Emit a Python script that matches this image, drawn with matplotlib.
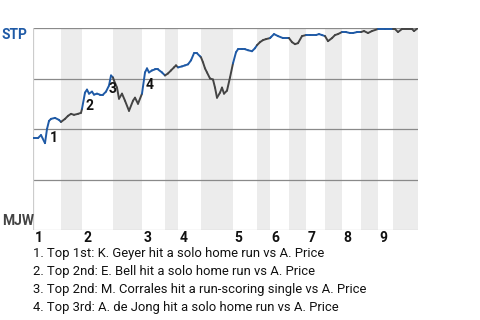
import matplotlib
matplotlib.use("Agg")
import matplotlib.pyplot as plt
from matplotlib.collections import LineCollection

# game progress (event units) and STP win probability (%)
prog = [0, 5, 8, 12, 14, 16, 18, 22, 26, 28,
        32, 35, 38, 41, 45, 48, 49,
        52, 54, 56, 59, 61, 64, 67, 70, 73, 76, 78, 80,
        81, 84, 86, 89, 92, 96, 100, 102, 105, 109,
        112, 114, 116, 119, 122, 125, 129, 132,
        135, 138, 141, 143, 145,
        149, 152, 155, 158, 161, 164, 167, 168,
        170, 172, 174, 177, 180, 182, 184, 187, 189, 191, 194, 197, 200,
        203, 205, 209, 212, 215, 219, 222, 224,
        227, 230, 233, 237,
        238, 241, 245, 250, 255, 256,
        259, 262, 265, 269, 273,
        277, 283, 286, 289, 292,
        295, 299, 302, 305, 309,
        313, 317, 320, 324, 328,
        331, 335, 339, 345,
        352, 360,
        362, 365, 369, 379, 381, 385]
wp = [45.5, 45.5, 47, 43, 50, 54, 55, 55.5, 54.5, 53.5,
      55, 56.5, 57.5, 57, 57.5, 58, 60,
      68, 69.5, 67.5, 68.5, 67, 67.5, 67, 67, 68.5, 71.5, 76.5, 75.5,
      74, 70.5, 65, 67.5, 64, 59, 64, 65.5, 62.5, 67.5,
      78, 80, 78, 79, 79.5, 79.5, 78, 76.5,
      77.5, 79, 80.5, 81.5, 80.5,
      81, 81.5, 82, 84, 87.5, 87.5, 86, 85.5,
      83, 80, 78, 75, 74.5, 70.5, 65.5, 68, 70.5, 67.5, 69, 75.5, 82.5,
      88, 89.5, 89.5, 89.5, 89, 88.5, 90, 91.5,
      93, 94, 94.5, 95,
      95.5, 97, 96, 95, 95, 95,
      93, 92, 92.5, 96, 96.5,
      96.5, 96.5, 97, 96.5, 96,
      93.5, 95, 96.5, 97, 98,
      98, 97.5, 97.5, 98, 98,
      98.5, 97.5, 98.5, 99.5,
      99.5, 99.5,
      99.5, 98, 99.5, 99.5, 98.5, 100]

# start of each half inning (top 1st, bot 1st, top 2nd, ...)
half_starts = [0, 28, 49, 80, 109, 132, 145, 168, 200, 224, 237, 256,
               273, 292, 309, 328, 345, 360]
game_end = 385
innings = ["1", "2", "3", "4", "5", "6", "7", "8", "9"]

# key plays: label, progress, win prob
play_labels = ["1", "2", "3", "4"]
play_x = [17, 53, 76, 113]
play_y = [45.5, 61.5, 70, 72]

notes = [
    "1. Top 1st: K. Geyer hit a solo home run vs A. Price",
    "2. Top 2nd: E. Bell hit a solo home run vs A. Price",
    "3. Top 2nd: M. Corrales hit a run-scoring single vs A. Price",
    "4. Top 3rd: A. de Jong hit a solo home run vs A. Price",
]

blue = "#1f5aa6"
dark = "#444444"
bold_font = ["Roboto", "DejaVu Sans"]

fig = plt.figure(figsize=(4.8, 3.2), dpi=100)
ax = fig.add_axes([33 / 480, 1 - 230 / 320, 385 / 480, 202 / 320])

# shaded bottom halves
for i in range(1, len(half_starts), 2):
    end = half_starts[i + 1] if i + 1 < len(half_starts) else game_end
    ax.axvspan(half_starts[i], end, color="#ececec", lw=0, zorder=0)

for y in [25, 50, 75, 100]:
    ax.axhline(y, color="#8a8a8a", lw=0.9, zorder=1)
ax.axhline(0, color="#cccccc", lw=0.9, zorder=1)
ax.axvline(0, color="#cccccc", lw=0.9, zorder=1)

# line coloured by which team is batting
segs, cols = [], []
for i in range(len(prog) - 1):
    mid = (prog[i] + prog[i + 1]) / 2
    half = sum(1 for s in half_starts if s <= mid) - 1
    segs.append([(prog[i], wp[i]), (prog[i + 1], wp[i + 1])])
    cols.append(blue if half % 2 == 0 else dark)
lc = LineCollection(segs, colors=cols, linewidths=1.4, capstyle="round",
                    joinstyle="round", zorder=3)
ax.add_collection(lc)

for lab, x, y in zip(play_labels, play_x, play_y):
    ax.text(x, y, lab, fontsize=10, fontweight="bold", family=bold_font,
            color="#111111", ha="left", va="center", zorder=4)

ax.set_xlim(0, game_end)
ax.set_ylim(0, 100)
ax.axis("off")

for k, lab in enumerate(innings):
    ax.text(half_starts[2 * k] + 1.5, -4, lab, fontsize=10, fontweight="bold",
            family=bold_font, color="#111111", ha="left", va="center",
            clip_on=False)

fig.text(2 / 480, 1 - 35 / 320, "STP", fontsize=10, fontweight="bold",
         family=bold_font, color=blue, ha="left", va="center")
fig.text(2 / 480, 1 - 221 / 320, "MJW", fontsize=10, fontweight="bold",
         family=bold_font, color=dark, ha="left", va="center")

for k, note in enumerate(notes):
    fig.text(33 / 480, 1 - (254 + 18 * k) / 320, note, fontsize=9.4,
             family=["Roboto", "DejaVu Sans"], color="#111111",
             ha="left", va="center")

fig.savefig("out.png", dpi=100)
